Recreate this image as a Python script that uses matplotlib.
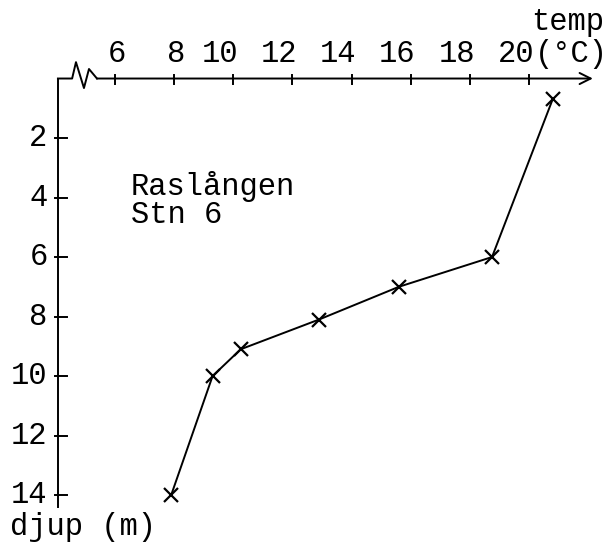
import matplotlib
matplotlib.use("Agg")
import matplotlib.pyplot as plt

# temperaturprofil, Raslången stn 6
temp = [20.8, 18.75, 15.6, 12.9, 10.25, 9.3, 7.9]
djup = [0.7, 6.0, 7.0, 8.1, 9.1, 10.0, 14.0]

temp_ticks = [6, 8, 10, 12, 14, 16, 18, 20]
djup_ticks = [2, 4, 6, 8, 10, 12, 14]

FONT = "Liberation Mono"
FS = 22
LW = 1.4

fig = plt.figure(figsize=(6.09, 5.51), dpi=100)
ax = fig.add_axes([0, 0, 1, 1])
ax.set_xlim(2.111, 22.706)
ax.set_ylim(15.88, -2.639)
ax.axis("off")

# axlar
x0 = 4.07
ax.plot([x0, x0], [0, 14.4], color="k", lw=LW)
# bruten temperaturaxel
brk_x = [x0, 4.55, 4.68, 4.95, 5.12, 5.39]
brk_y = [0, 0, -0.55, 0.32, -0.32, 0]
ax.plot(brk_x, brk_y, color="k", lw=LW)
ax.annotate("", xy=(22.16, 0), xytext=(5.39, 0),
            arrowprops=dict(arrowstyle="->", lw=LW, color="k",
                            mutation_scale=20, shrinkA=0, shrinkB=0))

# skalstreck och siffror
for t in temp_ticks:
    ax.plot([t, t], [-0.13, 0.2], color="k", lw=LW)
    s = str(t)
    if len(s) == 1:
        ax.text(t + 0.08, -0.55, s, ha="center", va="baseline",
                family=FONT, fontsize=FS)
    else:
        ax.text(t + 0.17, -0.55, s, ha="right", va="baseline",
                family=FONT, fontsize=FS)

for d in djup_ticks:
    ax.plot([x0 - 0.1, x0 + 0.3], [d, d], color="k", lw=LW)
    ax.text(3.72, d + 0.27, str(d), ha="right", va="baseline",
            family=FONT, fontsize=FS)

# axeltexter
ax.text(20.19, -0.55, "(°C)", ha="left", va="baseline", family=FONT, fontsize=FS)
ax.text(20.07, -1.62, "temp", ha="left", va="baseline", family=FONT, fontsize=FS)
ax.text(2.45, 15.34, "djup (m)", ha="left", va="baseline", family=FONT, fontsize=FS)

ax.text(6.54, 3.92, "Raslången", ha="left", va="baseline", family=FONT, fontsize=FS)
ax.text(6.54, 4.86, "Stn 6", ha="left", va="baseline", family=FONT, fontsize=FS)

# mätvärden
ax.plot(temp, djup, color="k", lw=LW, marker="x", markersize=10,
        markeredgewidth=1.6)

fig.savefig("out.png", dpi=100, facecolor="white")
